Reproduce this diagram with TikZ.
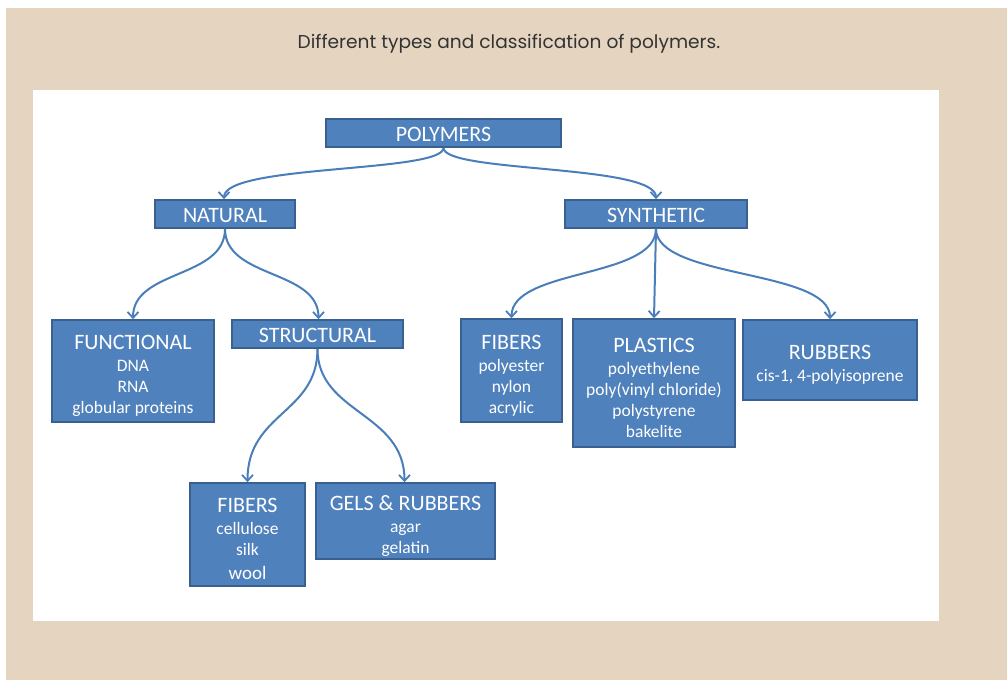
\documentclass[tikz,border=0pt]{standalone}
\usepackage{fontspec}
\setmainfont{Carlito}
\newfontfamily\titlefont{Poppins}
\usetikzlibrary{arrows.meta,positioning}
\definecolor{boxblue}{HTML}{4F81BD}
\definecolor{boxedge}{HTML}{3A6090}
\definecolor{linkblue}{HTML}{4A7EBB}
\definecolor{paper}{HTML}{E5D5C0}
\definecolor{titlegray}{HTML}{333333}
% heading of a one-line box / of a box with a list
\newcommand{\head}{\fontsize{22}{26}\selectfont\rule{0pt}{18pt}}
\newcommand{\headx}{\fontsize{22}{26}\selectfont\rule{0pt}{24pt}}
\tikzset{
  cat/.style={draw=boxedge, fill=boxblue, line width=1.6pt, text=white,
              align=center, inner sep=0pt,
              font=\fontsize{17.5}{21}\selectfont},
  link/.style={draw=linkblue, line width=2pt,
               -{Straight Barb[length=6pt,width=11pt,line width=1.8pt]}},
}
\begin{document}
\begin{tikzpicture}[x=1pt,y=-1pt]
  \useasboundingbox (0,0) rectangle (1007,680);
  % background
  \fill[white] (0,0) rectangle (1007,680);
  \fill[paper] (6,8) rectangle (1007,680);
  \fill[white] (33,90) rectangle (939,621);
  \node[font=\titlefont\fontsize{18.6}{22}\selectfont, text=titlegray] (title) at (509,44)
    {Different types and classification of polymers.};
  % top levels
  \node[cat, minimum width=235, minimum height=28] (poly)  at (443.5,133) {\head POLYMERS};
  \node[cat, minimum width=140, minimum height=28] (nat)   at (225,214)   {\head NATURAL};
  \node[cat, minimum width=182, minimum height=28] (syn)   at (656,214)   {\head SYNTHETIC};
  % natural branch
  \node[cat, minimum width=162, minimum height=102] (func) at (133,371)
    {{\headx FUNCTIONAL}\\[1pt] DNA\\ RNA\\ globular proteins};
  \node[cat, minimum width=171, minimum height=28] (struc) at (317.5,334) {\head STRUCTURAL};
  \node[cat, minimum width=115, minimum height=103] (nfib) at (247.5,534.5)
    {{\headx FIBERS}\\[1pt] cellulose\\ silk\\[3pt] {\fontsize{19}{22}\selectfont wool}};
  \node[cat, minimum width=179, minimum height=76] (gels)  at (405.5,521)
    {{\headx GELS \& RUBBERS}\\[1pt] agar\\ gelatin};
  % synthetic branch
  \node[cat, minimum width=101, minimum height=103] (sfib) at (511.5,370.5)
    {{\headx FIBERS}\\[1pt] polyester\\ nylon\\ acrylic};
  \node[cat, minimum width=162, minimum height=128] (plas) at (654,383)
    {{\headx PLASTICS}\\[1pt] polyethylene\\ poly(vinyl chloride)\\ polystyrene\\ bakelite};
  \node[cat, minimum width=174, minimum height=80] (rubb)  at (830,360)
    {{\headx RUBBERS}\\[1pt] cis-1, 4-polyisoprene};
  % links
  \draw[link] (poly.south) .. controls +(0,25) and +(0,-35) .. ([xshift=-1]nat.north);
  \draw[link] (poly.south) .. controls +(0,25) and +(0,-35) .. (syn.north);
  \draw[link] (nat.south)  .. controls +(0,50) and +(0,-50) .. (func.north);
  \draw[link] (nat.south)  .. controls +(0,50) and +(0,-50) .. ([xshift=1]struc.north);
  \draw[link] (syn.south)  .. controls +(0,50) and +(0,-50) .. (sfib.north);
  \draw[link] (syn.south)  -- (plas.north);
  \draw[link] (syn.south)  .. controls +(0,50) and +(0,-50) .. (rubb.north);
  \draw[link] (struc.south) .. controls +(0,65) and +(0,-70) .. (nfib.north);
  \draw[link] (struc.south) .. controls +(0,65) and +(0,-70) .. ([xshift=-1]gels.north);
\end{tikzpicture}
\end{document}
